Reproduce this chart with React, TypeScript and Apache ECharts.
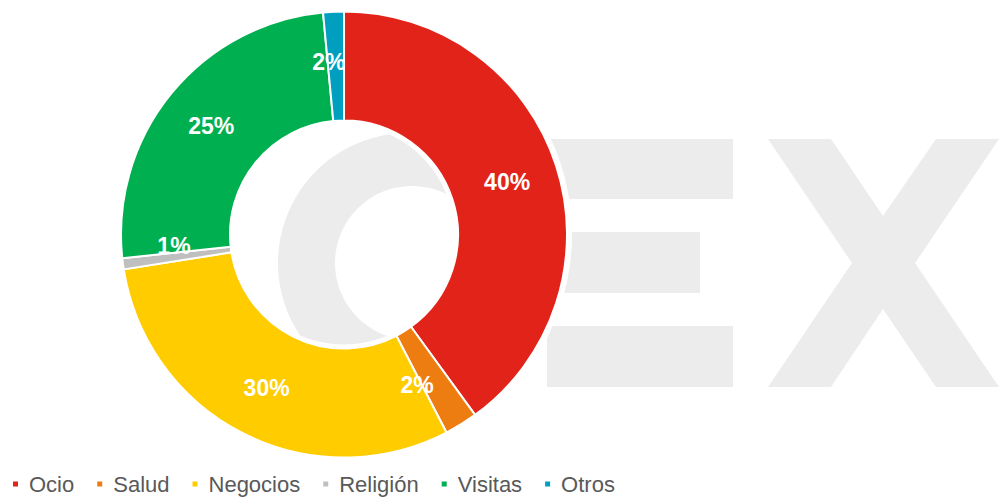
import React, { useEffect, useRef } from "react";
import * as echarts from "echarts";

const categories = ["Ocio", "Salud", "Negocios", "Religión", "Visitas", "Otros"];
const values = [40.0, 2.4, 30.1, 0.8, 25.2, 1.5];
const colors = ["#e2231a", "#ee7d11", "#ffcc00", "#bfbfbf", "#00b050", "#009fbf"];
const labelOffsets: number[][] = [[0, 0], [-17, 5], [0, 0], [0, -11], [0, 0], [-7, -1]];

const WM = "#ececec";

export default function App() {
  const ref = useRef<HTMLDivElement>(null);
  useEffect(() => {
    if (!ref.current) return;
    const chart = echarts.init(ref.current, null, { renderer: "svg" });
    const cx = 344;
    const cy = 234.5;
    chart.setOption({
      animation: false,
      backgroundColor: "#ffffff",
      graphic: [
        { type: "circle", z: 0, shape: { cx: 408, cy: 263, r: 130 }, style: { fill: WM } },
        { type: "circle", z: 0, shape: { cx: 412, cy: 263, r: 77 }, style: { fill: "#ffffff" } },
        { type: "rect", z: 0, shape: { x: 520, y: 139, width: 213, height: 60 }, style: { fill: WM } },
        { type: "rect", z: 0, shape: { x: 520, y: 232, width: 180, height: 61 }, style: { fill: WM } },
        { type: "rect", z: 0, shape: { x: 547, y: 326, width: 186, height: 61 }, style: { fill: WM } },
        {
          type: "polygon",
          z: 0,
          shape: {
            points: [
              [768, 139], [831, 139], [883, 216], [936, 139], [999, 139], [915, 263],
              [999, 387], [936, 387], [883, 309], [831, 387], [768, 387], [852, 263],
            ],
          },
          style: { fill: WM },
        },
        { type: "ring", z: 1, shape: { cx, cy, r: 228, r0: 110 }, style: { fill: "#ffffff" } },
      ],
      legend: {
        data: categories,
        left: 6,
        top: 468,
        icon: "rect",
        itemWidth: 7,
        itemHeight: 7,
        itemGap: 21,
        textStyle: {
          fontSize: 22,
          color: "#595959",
          fontFamily: "Liberation Sans, Arial, sans-serif",
          padding: [0, 0, 0, 5],
        },
      },
      series: [
        {
          type: "pie",
          center: [cx, cy],
          radius: [114, 223],
          startAngle: 90,
          clockwise: true,
          avoidLabelOverlap: false,
          itemStyle: { borderColor: "#ffffff", borderWidth: 2 },
          label: {
            show: true,
            position: "inside",
            color: "#ffffff",
            fontSize: 23,
            fontWeight: "bold",
            fontFamily: "Liberation Sans, Arial, sans-serif",
            formatter: (p: any) => Math.round(p.percent) + "%",
          },
          labelLine: { show: false },
          emphasis: { disabled: true },
          data: categories.map((name, i) => ({
            name,
            value: values[i],
            itemStyle: { color: colors[i] },
            label: { offset: labelOffsets[i] },
          })),
        },
      ],
    });
    return () => chart.dispose();
  }, []);
  return (
    <div
      ref={ref}
      style={{ position: "absolute", left: 0, top: 0, width: 1007, height: 497 }}
    />
  );
}
